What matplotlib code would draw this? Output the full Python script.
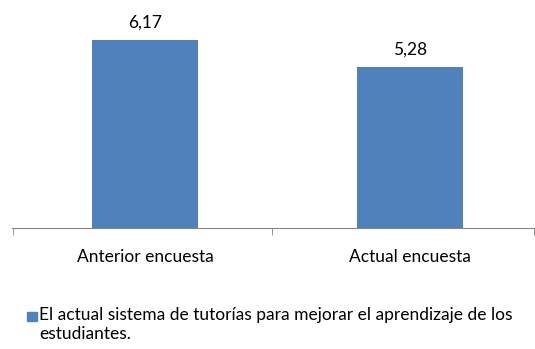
import matplotlib.pyplot as plt
from matplotlib.patches import Rectangle

categorias = ['Anterior encuesta', 'Actual encuesta']
valores = [6.17, 5.28]
serie = 'El actual sistema de tutorías para mejorar el aprendizaje de los\nestudiantes.'

plt.rcParams['font.family'] = ['Lato', 'DejaVu Sans']
azul = '#4F81BD'

fig = plt.figure(figsize=(5.35, 3.49), dpi=100)
ax = fig.add_axes([12 / 535, 121 / 349, 523 / 535, 213 / 349])

x = range(len(categorias))
barras = ax.bar(x, valores, width=0.4, color=azul)
for b, v in zip(barras, valores):
    ax.text(b.get_x() + b.get_width() / 2, v + 0.33, f'{v:.2f}'.replace('.', ','),
            ha='center', va='bottom', fontsize=12.5, color='#000000')

ax.set_xlim(-0.502, 1.472)
ax.set_ylim(0, 7)
ax.set_yticks([])
ax.set_xticks(list(x))
ax.set_xticklabels(categorias, fontsize=12.5)
ax.tick_params(axis='x', which='major', length=0, pad=15)
ax.set_xticks([-0.5, 0.48, 1.47], minor=True)
ax.tick_params(axis='x', which='minor', length=5, color='#868686', direction='out')
for s in ['top', 'right', 'left']:
    ax.spines[s].set_visible(False)
ax.spines['bottom'].set_color('#868686')

# leyenda
fig.patches.append(Rectangle((27 / 535, 1 - 321 / 349), 10 / 535, 9 / 349,
                             transform=fig.transFigure, color=azul))
fig.text(39 / 535, 1 - 307 / 349, serie, fontsize=12.5, va='top', ha='left',
         linespacing=1.25)

fig.savefig('out.png', dpi=100)
